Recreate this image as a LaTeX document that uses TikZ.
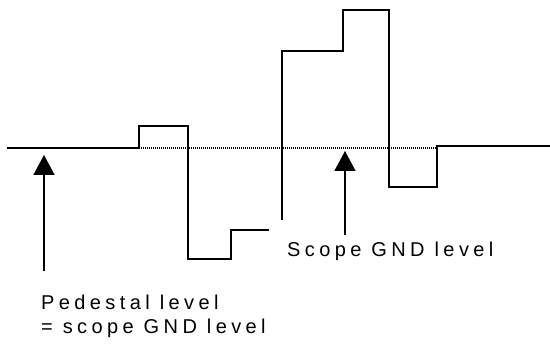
\documentclass[tikz,border=0pt]{standalone}
\usepackage{fontspec}
\setmainfont{Liberation Sans}[LetterSpace=22]
\usetikzlibrary{arrows.meta}
\begin{document}
\begin{tikzpicture}[x=1pt,y=-1pt,
  wave/.style={line width=1.6pt, line join=miter},
  ref/.style={line width=1.2pt, dash pattern=on 1pt off 1pt},
  pointer/.style={line width=1.6pt, -{Triangle[width=21pt,length=20pt]}},
  lbl/.style={anchor=base west, inner sep=0pt, font=\fontsize{20}{24}\selectfont}]
\useasboundingbox (0,0) rectangle (550,353);
% reference (scope GND) level
\draw[ref] (139,148) -- (437,148);
% waveform
\draw[wave] (7,148) -- (139,148) -- (139,126) -- (188,126) -- (188,259) -- (231,259) -- (231,230) -- (269,230);
\draw[wave] (282,220) -- (282,51) -- (343,51) -- (343,10) -- (389,10) -- (389,187) -- (437,187) -- (437,146) -- (550,146);
% labels
\node[lbl] (ped) at (41,309) {Pedestal level};
\node[lbl] (eq) at (41,334) {= scope GND level};
\node[lbl] (gnd) at (287,257) {Scope GND level};
% arrows
\coordinate (pedtail) at (44,271);
\coordinate (pedtip) at (44,155);
\coordinate (gndtail) at (345,235);
\coordinate (gndtip) at (345,151);
\draw[pointer] (pedtail) -- (pedtip);
\draw[pointer] (gndtail) -- (gndtip);
\end{tikzpicture}
\end{document}
